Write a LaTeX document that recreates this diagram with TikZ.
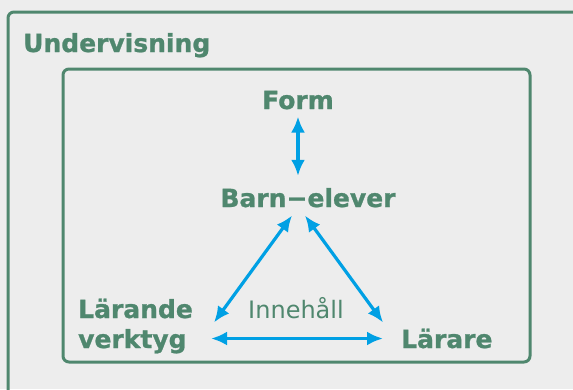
\documentclass[tikz,border=0pt]{standalone}
\usepackage{fontspec}
\setmainfont{DejaVu Sans}[BoldFeatures={FakeBold=1}]
\usetikzlibrary{positioning,arrows.meta}
\definecolor{grn}{RGB}{79,135,110}
\definecolor{blu}{RGB}{0,160,228}
\definecolor{bg}{RGB}{237,237,237}
\begin{document}
\begin{tikzpicture}[x=10pt,y=10pt]
		\tikzstyle{every node}+=[inner sep=0pt]
		\tikzstyle{box}=[grn,line width=3pt,rounded corners=6pt]
		\tikzstyle{bold}=[text=grn,font=\fontsize{25}{30}\selectfont\bfseries]
		\tikzstyle{dbl}=[blu,line width=3.2pt,{Latex[length=16pt,width=14pt]}-{Latex[length=16pt,width=14pt]}]
		\useasboundingbox [fill=bg] (0,0) rectangle (57.3,-38.9);
		\draw [box] (0.8,-1.2) rectangle (58.2,-40.5);
		\draw [box] (6.3,-6.9) rectangle (53,-36.2);
		\draw (2.3,-5.2) node [bold,anchor=base west] (undervisning) {Undervisning};
		\draw (29.8,-10.9) node [bold,anchor=base] (form) {Form};
		\draw (30.8,-20.7) node [bold,anchor=base] (barn) {Barn−elever};
		\draw (7.8,-34.8) node [bold,anchor=base west,align=left] (larande) {Lärande\\verktyg};
		\draw (40.1,-34.8) node [bold,anchor=base west] (larare) {Lärare};
		\draw (29.6,-31.8) node [text=grn,font=\fontsize{24}{30}\selectfont,anchor=base] (innehall) {Innehåll};
		\draw [dbl,shorten <=7pt,shorten >=12pt] (form.south) -- (form.south |- barn.north);
		\draw [dbl] ([xshift=-16pt,yshift=-8pt]barn.south) -- ([xshift=21pt,yshift=-24pt]larande.north east);
		\draw [dbl] ([xshift=-3pt,yshift=-8pt]barn.south) -- ([xshift=-18pt,yshift=6pt]larare.north west);
		\draw [dbl] ([xshift=18pt]larande.east |- larare.west) -- ([xshift=-18pt]larare.west);
	\end{tikzpicture}
\end{document}
